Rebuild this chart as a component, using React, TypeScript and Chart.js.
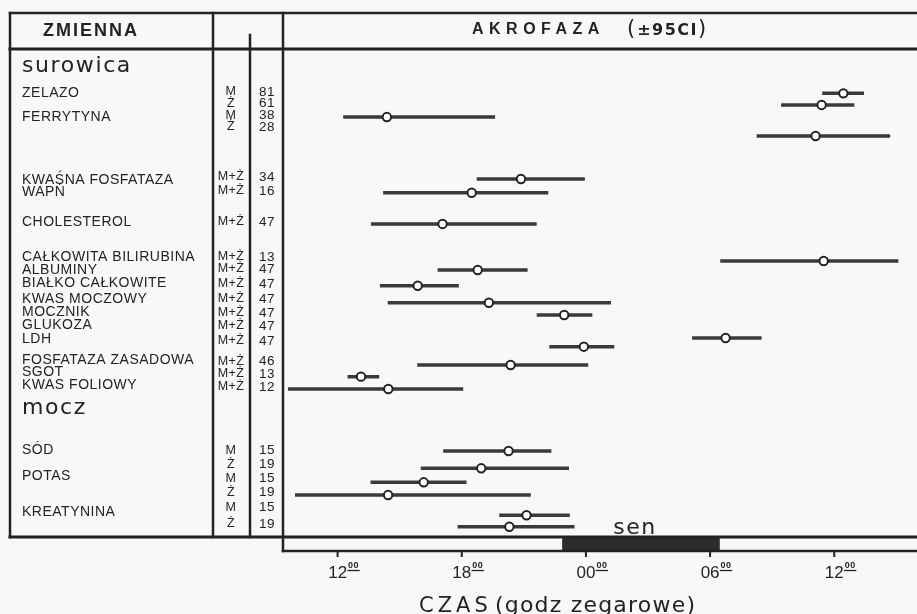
import React, { useEffect, useRef } from 'react';
import { Chart, registerables } from 'chart.js';

Chart.register(...registerables);

// ---- axis (continuous clock hours; values > 24 are the next day) ----
const axisMin = 9.36;
const axisMax = 40.0;
const hourTicks = [12, 18, 24, 30, 36];
const hourTickLabels = ['12', '18', '00', '06', '12'];
const sleepStart = 22.85;
const sleepEnd = 30.47;

// ---- table section headers ----
const groupHeaders = ['surowica', 'mocz'];
const groupHeaderRows = [1.28, 28.67];

// ---- variable names and their table rows ----
const variableNames = [
  'ZELAZO', 'FERRYTYNA', 'KWAŚNA FOSFATAZA', 'WAPŃ', 'CHOLESTEROL',
  'CAŁKOWITA BILIRUBINA', 'ALBUMINY', 'BIAŁKO CAŁKOWITE', 'KWAS MOCZOWY',
  'MOCZNIK', 'GLUKOZA', 'LDH', 'FOSFATAZA ZASADOWA', 'SGOT', 'KWAS FOLIOWY',
  'SÓD', 'POTAS', 'KREATYNINA',
];
const variableRows = [
  3.42, 5.34, 10.41, 11.37, 13.75, 16.58, 17.62, 18.66, 19.94,
  20.96, 22.02, 23.14, 24.83, 25.76, 26.83, 32.03, 34.12, 36.97,
];

// ---- one entry per estimate ----
const sexLabels = [
  'M', 'Ż', 'M', 'Ż',
  'M+Ż', 'M+Ż', 'M+Ż', 'M+Ż', 'M+Ż', 'M+Ż', 'M+Ż', 'M+Ż', 'M+Ż', 'M+Ż', 'M+Ż', 'M+Ż', 'M+Ż',
  'M', 'Ż', 'M', 'Ż', 'M', 'Ż',
];
const sampleSizes = [81, 61, 38, 28, 34, 16, 47, 13, 47, 47, 47, 47, 47, 47, 46, 13, 12, 15, 19, 15, 19, 15, 19];
const tableRows = [
  3.36, 4.28, 5.21, 6.17, 10.17, 11.29, 13.77, 16.58, 17.54, 18.74, 19.94, 21.06,
  22.10, 23.30, 24.91, 25.95, 26.99, 32.07, 33.19, 34.28, 35.44, 36.64, 37.96,
];
const markRows = [
  3.47, 4.40, 5.37, 6.89, 10.33, 11.43, 13.93, 16.90, 17.62, 18.88, 20.24, 21.22,
  23.06, 23.76, 25.23, 26.16, 27.15, 32.11, 33.50, 34.62, 35.64, 37.26, 38.18,
];
const acrophase = [
  36.44, 35.39, 14.38, 35.10, 20.86, 18.48, 17.07, 35.49, 18.77, 15.87, 19.31, 22.95,
  30.75, 23.90, 20.36, 13.13, 14.45, 20.26, 18.94, 16.16, 14.44, 21.13, 20.30,
];
const ciLower = [
  35.42, 33.43, 12.27, 32.25, 18.72, 14.20, 13.61, 30.49, 16.83, 14.04, 14.42, 21.62,
  29.13, 22.23, 15.85, 12.48, 9.60, 17.10, 16.02, 13.59, 9.94, 19.81, 17.80,
];
const ciUpper = [
  37.44, 36.97, 19.61, 38.70, 23.95, 22.18, 21.62, 39.10, 21.18, 17.86, 25.21, 24.31,
  32.49, 25.37, 24.11, 14.01, 18.07, 22.33, 23.18, 18.23, 21.34, 23.22, 23.45,
];

const PAPER = '#f8f8f6';
const INK = '#232323';
const BAR_INK = '#3a3a3a';

function hline(ctx: CanvasRenderingContext2D, x1: number, x2: number, y: number, w: number) {
  ctx.lineWidth = w;
  ctx.beginPath();
  ctx.moveTo(x1, y);
  ctx.lineTo(x2, y);
  ctx.stroke();
}
function vline(ctx: CanvasRenderingContext2D, x: number, y1: number, y2: number, w: number) {
  ctx.lineWidth = w;
  ctx.beginPath();
  ctx.moveTo(x, y1);
  ctx.lineTo(x, y2);
  ctx.stroke();
}
function text(
  ctx: CanvasRenderingContext2D, s: string, x: number, y: number, font: string,
  align: CanvasTextAlign, spacing: number, baseline: CanvasTextBaseline = 'middle',
): number {
  ctx.font = font;
  (ctx as any).letterSpacing = spacing + 'px';
  ctx.textAlign = align;
  ctx.textBaseline = baseline;
  ctx.fillText(s, x, y);
  return ctx.measureText(s).width;
}

const framePlugin = {
  id: 'frame',
  beforeDraw(chart: any) {
    const { ctx, width, height, chartArea: a } = chart;
    const xs = chart.scales.x;
    const ys = chart.scales.y;
    ctx.save();
    ctx.fillStyle = PAPER;
    ctx.fillRect(0, 0, width, height);

    const left = 10;
    const top = 13;
    const colSex = 213;
    const colN = 250;
    const barTop = a.bottom;
    const barBottom = a.bottom + 14;

    // sleep band
    const s0 = xs.getPixelForValue(sleepStart);
    const s1 = xs.getPixelForValue(sleepEnd);
    ctx.fillStyle = '#2c2c2c';
    ctx.fillRect(s0, barTop, s1 - s0, barBottom - barTop);

    // frame lines
    ctx.strokeStyle = INK;
    ctx.lineCap = 'square';
    hline(ctx, left, width, top, 2.5);
    hline(ctx, left, width, a.top - 1, 3);
    hline(ctx, left, width, barTop, 3);
    hline(ctx, a.left, width, barBottom, 2.5);
    vline(ctx, left, top, barTop, 2.5);
    vline(ctx, colSex, top, barTop, 2.5);
    vline(ctx, colN, 35, barTop, 2.5);
    vline(ctx, a.left, top, barBottom, 2.5);

    ctx.fillStyle = INK;
    // header texts
    text(ctx, 'ZMIENNA', 43, 31, 'bold 18px "Liberation Sans"', 'left', 2);
    text(ctx, 'AKROFAZA', 472, 30, 'bold 16px "Liberation Sans"', 'left', 5.5);
    const pw = text(ctx, '(', 627, 30, '21px "DejaVu Sans"', 'left', 0);
    const tw = text(ctx, '±95CI', 627 + pw + 2, 31, 'bold 16px "DejaVu Sans"', 'left', 1.5);
    text(ctx, ')', 627 + pw + 2 + tw, 30, '21px "DejaVu Sans"', 'left', 0);

    // section headers
    groupHeaders.forEach((g, i) => {
      text(ctx, g, 22, ys.getPixelForValue(groupHeaderRows[i]) + 6, '22px "DejaVu Sans"', 'left', 1.6, 'alphabetic');
    });
    // variable names
    variableNames.forEach((n, i) => {
      text(ctx, n, 22, ys.getPixelForValue(variableRows[i]), '14px "Liberation Sans"', 'left', 0.5);
    });
    // sex and n columns
    sexLabels.forEach((s, i) => {
      text(ctx, s, 231, ys.getPixelForValue(tableRows[i]), '12.5px "Liberation Sans"', 'center', 0.4);
    });
    sampleSizes.forEach((n, i) => {
      text(ctx, String(n), 267, ys.getPixelForValue(tableRows[i]), '13.5px "Liberation Sans"', 'center', 0.4);
    });

    // ticks + labels
    ctx.strokeStyle = INK;
    hourTicks.forEach((h, i) => {
      const x = xs.getPixelForValue(h);
      vline(ctx, x, barBottom, barBottom + 5, 2);
      const w = text(ctx, hourTickLabels[i], x, 578, '17px "Liberation Sans"', 'center', 0, 'alphabetic');
      const sx = x + w / 2 + 1;
      text(ctx, '00', sx, 568, 'bold 9px "Liberation Sans"', 'left', 0.5, 'alphabetic');
      hline(ctx, sx, sx + 11, 570.5, 1.3);
    });

    // sleep label
    text(ctx, 'sen', (s0 + s1) / 2 - 6, 534, '22px "DejaVu Sans"', 'center', 1.5, 'alphabetic');

    // axis title
    text(ctx, 'CZAS', 419, 612, '21px "DejaVu Sans"', 'left', 4, 'alphabetic');
    text(ctx, '(godz zegarowe)', 495, 612, '22px "DejaVu Sans"', 'left', 1.2, 'alphabetic');

    ctx.restore();
  },
};

export default function App() {
  const ref = useRef<HTMLCanvasElement>(null);
  useEffect(() => {
    document.body.style.margin = '0';
    const canvas = ref.current!;
    const ciDatasets = markRows.map((r, i) => ({
      data: [{ x: ciLower[i], y: r }, { x: ciUpper[i], y: r }],
      showLine: true,
      borderColor: BAR_INK,
      borderWidth: 3.5,
      borderCapStyle: 'butt',
      pointRadius: 0,
      order: 1,
    }));
    const pointDataset = {
      data: markRows.map((r, i) => ({ x: acrophase[i], y: r })),
      showLine: false,
      pointRadius: 4.2,
      pointBackgroundColor: '#ffffff',
      pointBorderColor: INK,
      pointBorderWidth: 2,
      order: 0,
    };
    const chart = new Chart(canvas, {
      type: 'scatter',
      data: { datasets: [pointDataset, ...ciDatasets] as any },
      options: {
        responsive: false,
        animation: false,
        events: [],
        layout: { autoPadding: false, padding: { left: 283, right: 0, top: 50, bottom: 77 } },
        plugins: { legend: { display: false }, tooltip: { enabled: false } },
        scales: {
          x: { type: 'linear', min: axisMin, max: axisMax, display: false },
          y: { type: 'linear', min: 0, max: 39, reverse: true, display: false },
        },
      },
      plugins: [framePlugin],
    });
    return () => chart.destroy();
  }, []);
  return (
    <div style={{ width: 917, height: 614, background: PAPER }}>
      <canvas ref={ref} width={917} height={614} style={{ display: 'block', width: 917, height: 614 }} />
    </div>
  );
}
